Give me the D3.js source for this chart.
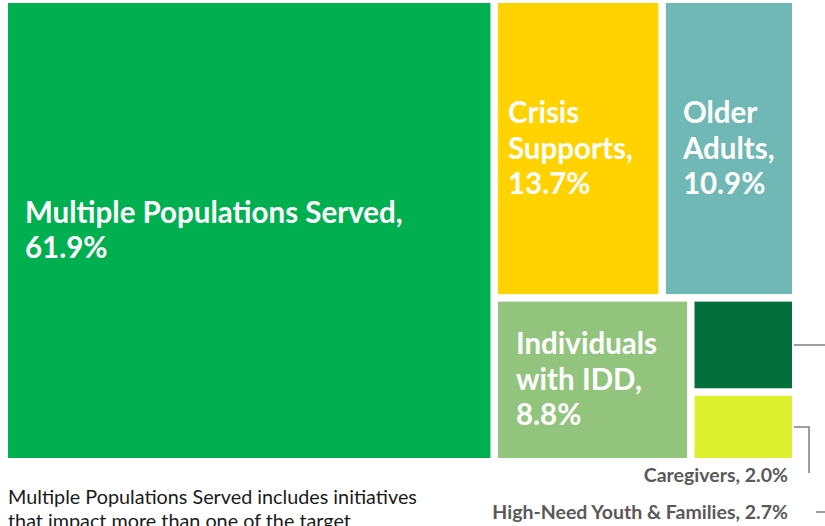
<!DOCTYPE html>
<html>
<head>
<meta charset="utf-8">
<script src="https://cdn.jsdelivr.net/npm/d3@7"></script>
<style>
  html, body { margin: 0; padding: 0; background: #fff; overflow: hidden; }
  svg { display: block; }
</style>
</head>
<body>
<svg id="chart" width="825" height="526"></svg>
<script>
// ---- data ----
const categories = ["Multiple Populations Served", "Crisis Supports", "Older Adults", "Individuals with IDD", "High-Need Youth & Families", "Caregivers"];
const shares = [61.9, 13.7, 10.9, 8.8, 2.7, 2.0];
const colors = ["#00B050", "#FFD200", "#6FB8B6", "#93C47D", "#026E3B", "#DBF02E"];
const insideLines = [
  ["Multiple Populations Served,", "61.9%"],
  ["Crisis", "Supports,", "13.7%"],
  ["Older", "Adults,", "10.9%"],
  ["Individuals", "with IDD,", "8.8%"],
  null,
  null
];
const footnote = ["Multiple Populations Served includes initiatives", "that impact more than one of the target"];

// grouping of the squarified layout (as drawn by the spreadsheet's treemap)
const leaf = i => ({name: categories[i], value: shares[i], idx: i});
const tree = {dir: "h", children: [
  leaf(0),
  {dir: "v", children: [
    {dir: "h", children: [leaf(1), leaf(2)]},
    {dir: "h", children: [leaf(3), {dir: "v", children: [leaf(4), leaf(5)]}]}
  ]}
]};

// ---- layout ----
const svg = d3.select("#chart");
const root = d3.hierarchy(tree).sum(d => d.value || 0);
d3.treemap()
  .tile((node, x0, y0, x1, y1) =>
    (node.data.dir === "v" ? d3.treemapSlice : d3.treemapDice)(node, x0, y0, x1, y1))
  .size([784, 455])
  .paddingInner(7.5)
  .round(false)(root);

const ox = 8, oy = 3;
const leaves = root.leaves().sort((a, b) => a.data.idx - b.data.idx);

const g = svg.append("g").attr("transform", `translate(${ox},${oy})`);
g.selectAll("rect").data(leaves).enter().append("rect")
  .attr("x", d => d.x0).attr("y", d => d.y0)
  .attr("width", d => d.x1 - d.x0).attr("height", d => d.y1 - d.y0)
  .attr("fill", d => colors[d.data.idx]);

const font = "Lato, 'Open Sans', sans-serif";
const lineH = 35.5;
const padX = [17, 10, 17, 18];
leaves.forEach(d => {
  const lines = insideLines[d.data.idx];
  if (!lines) return;
  const cy = (d.y0 + d.y1) / 2;
  const n = lines.length;
  const firstBase = cy + 10 - (n - 1) / 2 * lineH;
  const t = g.append("text")
    .attr("x", d.x0 + padX[d.data.idx])
    .attr("y", firstBase)
    .attr("fill", "#fff")
    .attr("font-family", font)
    .attr("font-weight", 700)
    .attr("font-size", 29.5);
  lines.forEach((l, i) => {
    t.append("tspan").attr("x", d.x0 + padX[d.data.idx]).attr("y", firstBase + i * lineH).text(l);
  });
});

// ---- external labels with leader lines ----
const hy = leaves[4], cg = leaves[5];
const lblColor = "#595959", lineColor = "#7F7F7F";
const hyMid = (hy.y0 + hy.y1) / 2, cgMid = (cg.y0 + cg.y1) / 2;
const cgLabelY = 482, hyLabelY = 519;
g.append("path")
  .attr("d", `M${cg.x1 + 2},${cgMid} H${cg.x1 + 17} V${cgLabelY - oy - 9}`)
  .attr("fill", "none").attr("stroke", lineColor).attr("stroke-width", 1.5);
g.append("path")
  .attr("d", `M${hy.x1 + 2},${hyMid} H${hy.x1 + 45} V${hyLabelY - oy - 7} H${hy.x1 + 24}`)
  .attr("fill", "none").attr("stroke", lineColor).attr("stroke-width", 1.5);
g.append("text")
  .attr("x", cg.x1 - 4).attr("y", cgLabelY - oy)
  .attr("text-anchor", "end").attr("fill", lblColor)
  .attr("font-family", font).attr("font-weight", 700).attr("font-size", 19.5)
  .text(categories[5] + ", " + shares[5].toFixed(1) + "%");
g.append("text")
  .attr("x", hy.x1 - 4).attr("y", hyLabelY - oy)
  .attr("text-anchor", "end").attr("fill", lblColor)
  .attr("font-family", font).attr("font-weight", 700).attr("font-size", 19.5)
  .text(categories[4] + ", " + shares[4].toFixed(1) + "%");

// ---- footnote ----
const fn = svg.append("text")
  .attr("font-family", font).attr("font-size", 19.8).attr("fill", "#1a1a1a");
footnote.forEach((l, i) => fn.append("tspan").attr("x", 8).attr("y", 504 + i * 24).text(l));
</script>
</body>
</html>
